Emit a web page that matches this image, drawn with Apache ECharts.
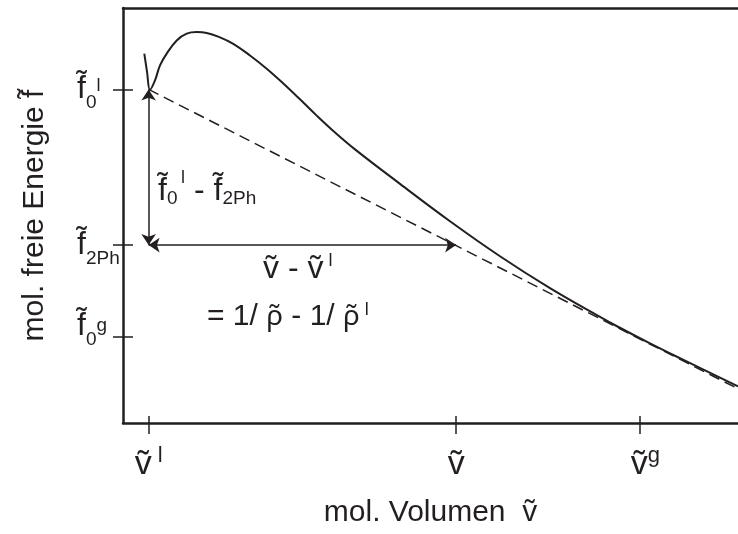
<!DOCTYPE html>
<html><head><meta charset="utf-8">
<script src="https://cdn.jsdelivr.net/npm/echarts@6/dist/echarts.min.js"></script>
<style>html,body{margin:0;padding:0;background:#fff}#c{width:738px;height:534px}</style>
</head><body><div id="c"></div>
<script>
// ---------------- data (arbitrary units) ----------------
const xRange = [0, 24];                 // mol. Volumen
const yRange = [0, 16];                 // mol. freie Energie
const xTickValues = [1, 13, 20.15];     // ṽ^l, ṽ, ṽ^g
const xTickLabels = ['{m|v\u0303}{sup| l}', '{m|v\u0303}', '{mg|v\u0303}{sup|g}'];
const yTickValues = [12.86, 6.86, 3.31]; // f̃0^l, f̃2Ph, f̃0^g
const yTickLabels = ['{m|f\u0303}{sub|0}{sup|l}', '{m|f\u0303}{sub|2Ph}', '{m|f\u0303}{sub|0}{supg|g}\n{gap| }'];
const curveX = [0.831, 0.937, 1.054, 1.249, 1.444, 1.705, 2.096, 2.486, 2.876, 3.266, 3.785, 4.304, 4.956, 5.608, 6.256, 6.907, 7.559, 8.195, 9.054, 10.810, 12.761, 14.712, 16.663, 18.615, 19.278, 20.566, 21.854, 24.0];
const curveY = [14.24, 13.55, 12.85, 13.21, 13.79, 14.24, 14.75, 15.01, 15.07, 15.04, 14.87, 14.62, 14.17, 13.66, 13.09, 12.48, 11.85, 11.27, 10.55, 9.22, 7.78, 6.43, 5.20, 4.09, 3.73, 3.07, 2.44, 1.41];
const tangentX = [1, 24];
const tangentY = [12.86, 1.32];
const xTitle = 'mol. Volumen  v\u0303';
const yTitle = 'mol. freie Energie f\u0303';
const note1 = '{m|f\u0303}{sub|0}{sup|\u2009l}{m| - f\u0303}{sub|2Ph}';
const note2 = '{m|v\u0303 - v\u0303}{sup| l}';
const note3 = '{m|= 1/ }{r|\u03c1\u0303}{m| - 1/ }{r|\u03c1\u0303}{sup| l}';

// ---------------- chart ----------------
const C = '#231f20';
const FF = '"Liberation Sans", Arial, Helvetica, sans-serif';
const FR = '"Noto Sans", "DejaVu Sans", sans-serif';
const chart = echarts.init(document.getElementById('c'), null, {renderer: 'canvas'});
const pick = (vals, labels) => (v) => {
  const i = vals.findIndex(t => Math.abs(t - v) < 1e-6);
  return i >= 0 ? labels[i] : '';
};
const tk = (s) => Object.assign({fontFamily: FF, color: C}, s);
const xRich = {
  m: tk({fontSize: 34, lineHeight: 44}),
  mg: tk({fontSize: 34, lineHeight: 44, padding: [0, 0, 0, 12]}),
  sup: tk({fontSize: 22, lineHeight: 26, height: 26, verticalAlign: 'top'})
};
const yRich = {
  m: tk({fontSize: 32, lineHeight: 44}),
  sub: tk({fontSize: 19, lineHeight: 17, height: 17, verticalAlign: 'bottom'}),
  sup: tk({fontSize: 18, lineHeight: 37, height: 37, verticalAlign: 'top'}),
  supg: tk({fontSize: 19, verticalAlign: 'middle'}),
  gap: tk({fontSize: 10, lineHeight: 22})
};
const gt = (s) => Object.assign({fontFamily: FF, fill: C}, s);

const option = {
  backgroundColor: '#ffffff',
  animation: false,
  grid: {left: 123, top: 8, right: 0, bottom: 111, containLabel: false},
  xAxis: [
    {
      type: 'value', min: xRange[0], max: xRange[1], position: 'bottom',
      axisLine: {show: true, onZero: false, lineStyle: {color: C, width: 2.5}},
      axisTick: {show: true, inside: false, length: 11, customValues: xTickValues, lineStyle: {color: C, width: 1.5}},
      axisLabel: {show: true, customValues: xTickValues, formatter: pick(xTickValues, xTickLabels), rich: xRich, margin: 20},
      splitLine: {show: false},
      name: xTitle, nameLocation: 'middle', nameGap: 75,
      nameTextStyle: {fontSize: 30, fontFamily: FF, color: C}
    },
    {
      type: 'value', min: xRange[0], max: xRange[1], position: 'bottom',
      axisLine: {show: false, onZero: false},
      axisTick: {show: true, inside: true, length: 7, customValues: xTickValues, lineStyle: {color: C, width: 1.5}},
      axisLabel: {show: false}, splitLine: {show: false}
    },
    {
      type: 'value', min: xRange[0], max: xRange[1], position: 'top',
      axisLine: {show: true, onZero: false, lineStyle: {color: C, width: 2.5}},
      axisTick: {show: false}, axisLabel: {show: false}, splitLine: {show: false}
    }
  ],
  yAxis: [
    {
      type: 'value', min: yRange[0], max: yRange[1], position: 'left',
      axisLine: {show: true, onZero: false, lineStyle: {color: C, width: 2.5}},
      axisTick: {show: true, inside: false, length: 10, customValues: yTickValues, lineStyle: {color: C, width: 1.5}},
      axisLabel: {show: true, customValues: yTickValues, formatter: pick(yTickValues, yTickLabels), rich: yRich, align: 'left', margin: 46},
      splitLine: {show: false},
      name: yTitle, nameLocation: 'middle', nameGap: 73,
      nameTextStyle: {fontSize: 30, fontFamily: FF, color: C}
    },
    {
      type: 'value', min: yRange[0], max: yRange[1], position: 'left',
      axisLine: {show: false, onZero: false},
      axisTick: {show: true, inside: true, length: 10, customValues: yTickValues, lineStyle: {color: C, width: 1.5}},
      axisLabel: {show: false}, splitLine: {show: false}
    }
  ],
  series: [
    {
      type: 'line', xAxisIndex: 0, yAxisIndex: 0,
      data: curveX.map((x, i) => [x, curveY[i]]),
      showSymbol: false, smooth: 0.4,
      lineStyle: {color: C, width: 2}
    },
    {
      type: 'line', xAxisIndex: 0, yAxisIndex: 0,
      data: tangentX.map((x, i) => [x, tangentY[i]]),
      showSymbol: false,
      lineStyle: {color: C, width: 1.5, type: [11, 6]},
      markLine: {
        silent: true, animation: false,
        symbol: ['arrow', 'arrow'], symbolSize: 11,
        lineStyle: {color: C, width: 1.5, type: 'solid'},
        label: {show: false},
        data: [
          [{coord: [xTickValues[0], yTickValues[0]]}, {coord: [xTickValues[0], yTickValues[1]]}],
          [{coord: [xTickValues[0], yTickValues[1]]}, {coord: [xTickValues[1], yTickValues[1]]}]
        ]
      }
    }
  ],
  graphic: [
    {type: 'text', x: 158, y: 169, style: {text: note1, align: 'left', verticalAlign: 'top',
      rich: {m: gt({fontSize: 32, lineHeight: 44}),
             sub: gt({fontSize: 19, lineHeight: 29, height: 29, verticalAlign: 'bottom'}),
             sup: gt({fontSize: 18, lineHeight: 19, height: 19, verticalAlign: 'top'})}}},
    {type: 'text', x: 263, y: 247, style: {text: note2, align: 'left', verticalAlign: 'top',
      rich: {m: gt({fontSize: 32, lineHeight: 44}),
             sup: gt({fontSize: 18, lineHeight: 29, height: 29, verticalAlign: 'top'})}}},
    {type: 'text', x: 207, y: 295, style: {text: note3, align: 'left', verticalAlign: 'top',
      rich: {m: gt({fontSize: 30, lineHeight: 44}),
             r: gt({fontSize: 28, lineHeight: 44, fontFamily: FR}),
             sup: gt({fontSize: 18, lineHeight: 30, height: 30, verticalAlign: 'top'})}}}
  ]
};
chart.setOption(option);
</script>
</body></html>
